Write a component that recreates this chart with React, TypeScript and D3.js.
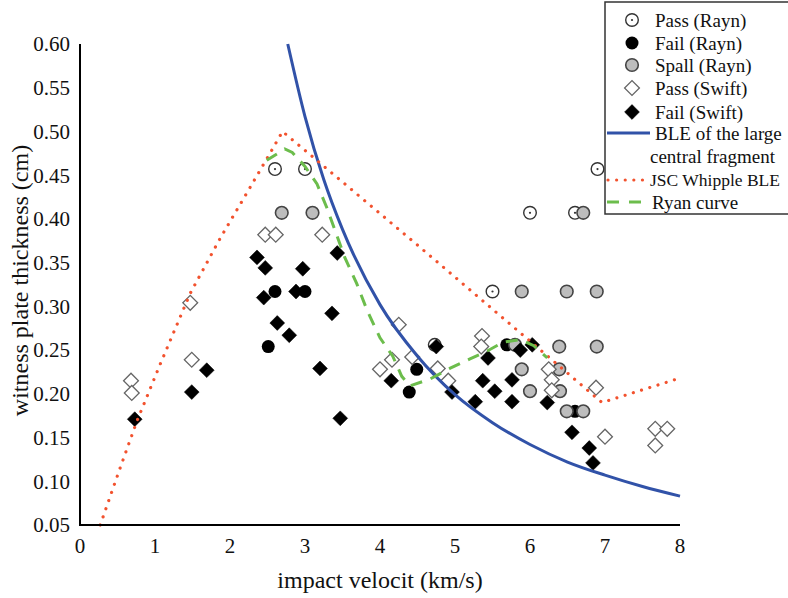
import React from "react";
import * as d3 from "d3";

const WIDTH = 788;
const HEIGHT = 598;
const FONT = "Liberation Serif, DejaVu Serif, Times New Roman, Tinos, serif";

// Pass (Rayn)
const passRaynX = [2.6, 3.0, 5.5, 6.0, 6.6, 6.9, 4.73];
const passRaynY = [0.457, 0.457, 0.317, 0.407, 0.407, 0.457, 0.256];

// Fail (Rayn)
const failRaynX = [2.6, 3.0, 2.51, 4.39, 4.49, 5.69, 6.6];
const failRaynY = [0.317, 0.317, 0.254, 0.202, 0.228, 0.256, 0.18];

// Spall (Rayn)
const spallX = [2.69, 3.1, 5.89, 6.49, 6.89, 6.71, 5.8, 6.39, 6.89, 5.89, 6.39, 6.0, 6.4, 6.49, 6.71];
const spallY = [0.407, 0.407, 0.317, 0.317, 0.317, 0.407, 0.256, 0.254, 0.254, 0.228, 0.228, 0.203, 0.203, 0.18, 0.18];

// Pass (Swift)
const passSwiftX = [0.68, 0.69, 1.47, 1.49, 2.47, 2.61, 3.23, 4.25, 4.16, 4.0, 4.43, 4.77, 4.91, 5.36, 5.35, 6.25, 6.29, 6.29, 6.88, 7.0, 7.67, 7.83, 7.67];
const passSwiftY = [0.215, 0.201, 0.304, 0.239, 0.382, 0.382, 0.382, 0.279, 0.239, 0.228, 0.242, 0.229, 0.215, 0.266, 0.254, 0.228, 0.216, 0.204, 0.207, 0.151, 0.16, 0.16, 0.141];

// Fail (Swift)
const failSwiftX = [0.73, 1.49, 1.69, 2.36, 2.47, 2.97, 3.43, 2.45, 2.88, 3.36, 2.63, 2.79, 3.2, 3.47, 4.15, 4.75, 5.44, 5.37, 5.76, 5.53, 4.96, 5.27, 5.76, 6.23, 5.87, 6.03, 6.56, 6.79, 6.84];
const failSwiftY = [0.171, 0.202, 0.227, 0.356, 0.344, 0.343, 0.361, 0.31, 0.317, 0.292, 0.281, 0.267, 0.229, 0.172, 0.215, 0.254, 0.241, 0.215, 0.216, 0.203, 0.202, 0.191, 0.191, 0.19, 0.25, 0.256, 0.156, 0.138, 0.121];

// BLE of the large central fragment
const bleX = [2.77, 3.0, 3.25, 3.5, 4.0, 4.5, 5.0, 5.5, 6.0, 6.5, 7.0, 7.5, 8.0];
const bleY = [0.6, 0.517, 0.445, 0.388, 0.302, 0.243, 0.199, 0.167, 0.142, 0.122, 0.107, 0.094, 0.083];

// JSC Whipple BLE
const jscX = [0.27, 0.53, 0.76, 1.07, 1.47, 1.87, 2.22, 2.56, 2.7, 4.5, 6.96, 8.0];
const jscY = [0.05, 0.114, 0.169, 0.234, 0.315, 0.378, 0.429, 0.479, 0.5, 0.37, 0.19, 0.218];

// Ryan curve
const ryanX = [2.49, 2.73, 2.83, 3.0, 3.16, 3.29, 3.4, 3.53, 3.69, 3.83, 4.0, 4.17, 4.29, 4.4, 4.67, 4.93, 5.2, 5.43, 5.64, 5.87, 6.05, 6.23];
const ryanY = [0.467, 0.48, 0.476, 0.46, 0.44, 0.413, 0.387, 0.356, 0.326, 0.295, 0.264, 0.243, 0.22, 0.209, 0.217, 0.229, 0.24, 0.249, 0.259, 0.262, 0.255, 0.241];

const xTicks = [0, 1, 2, 3, 4, 5, 6, 7, 8];
const yTicks = [0.05, 0.1, 0.15, 0.2, 0.25, 0.3, 0.35, 0.4, 0.45, 0.5, 0.55, 0.6];

const legendLabels = ["Pass (Rayn)", "Fail (Rayn)", "Spall (Rayn)", "Pass (Swift)", "Fail (Swift)"];

const zip = (xs: number[], ys: number[]) => xs.map((x, i) => [x, ys[i]] as [number, number]);

const diamond = d3.symbol(d3.symbolSquare, 110)() as string;

function Circle({ x, y, kind }: { x: number; y: number; kind: string }) {
  if (kind === "pass")
    return (
      <g transform={`translate(${x},${y})`}>
        <circle r={6.3} fill="#fff" stroke="#333" strokeWidth={1.4} />
        <circle r={1.1} fill="#333" />
      </g>
    );
  if (kind === "fail") return <circle cx={x} cy={y} r={6.5} fill="#000" />;
  return <circle cx={x} cy={y} r={6.3} fill="#bdbdbd" stroke="#444" strokeWidth={1.6} />;
}

function Diamond({ x, y, filled }: { x: number; y: number; filled: boolean }) {
  return (
    <path
      d={diamond}
      transform={`translate(${x},${y}) rotate(45)`}
      fill={filled ? "#000" : "#fff"}
      stroke={filled ? "#000" : "#666"}
      strokeWidth={filled ? 0.5 : 1.3}
    />
  );
}

export default function App() {
  const x = d3.scaleLinear().domain([0, 8]).range([80, 680]);
  const y = d3.scaleLinear().domain([0.05, 0.6]).range([525, 44]);

  const line = d3
    .line<[number, number]>()
    .x((d) => x(d[0]))
    .y((d) => y(d[1]));

  const blePath = d3
    .line<[number, number]>()
    .x((d) => x(d[0]))
    .y((d) => y(d[1]))
    .curve(d3.curveMonotoneX)(zip(bleX, bleY)) as string;
  const ryanPath = line(zip(ryanX, ryanY)) as string;
  const jscPath = line(zip(jscX, jscY)) as string;

  const legendRows = [20, 43, 65, 88, 112];
  const textStyle = { fontFamily: FONT };

  return (
    <svg
      width={WIDTH}
      height={HEIGHT}
      style={{ position: "absolute", left: 0, top: 0, background: "#fff", fontFamily: FONT }}
    >
      <rect width={WIDTH} height={HEIGHT} fill="#fff" />

      {/* markers */}
      {zip(passRaynX, passRaynY).map((d, i) => (
        <Circle key={`pr${i}`} x={x(d[0])} y={y(d[1])} kind="pass" />
      ))}
      {zip(failRaynX, failRaynY).map((d, i) => (
        <Circle key={`fr${i}`} x={x(d[0])} y={y(d[1])} kind="fail" />
      ))}
      {zip(spallX, spallY).map((d, i) => (
        <Circle key={`sr${i}`} x={x(d[0])} y={y(d[1])} kind="spall" />
      ))}
      {zip(passSwiftX, passSwiftY).map((d, i) => (
        <Diamond key={`ps${i}`} x={x(d[0])} y={y(d[1])} filled={false} />
      ))}
      {zip(failSwiftX, failSwiftY).map((d, i) => (
        <Diamond key={`fs${i}`} x={x(d[0])} y={y(d[1])} filled={true} />
      ))}

      {/* curves */}
      <path d={blePath} fill="none" stroke="#3152a8" strokeWidth={3} />
      <path
        d={jscPath}
        fill="none"
        stroke="#f2522e"
        strokeWidth={3.2}
        strokeDasharray="0.01 8.6"
        strokeLinecap="round"
      />
      <path d={ryanPath} fill="none" stroke="#6cbd4c" strokeWidth={3} strokeDasharray="12 9" />

      {/* axes */}
      <line x1={80} x2={80} y1={y(0.6)} y2={y(0.05) + 1} stroke="#000" strokeWidth={2} />
      <line x1={79} x2={680} y1={y(0.05)} y2={y(0.05)} stroke="#000" strokeWidth={2} />
      {yTicks.map((t) => (
        <text key={t} x={70} y={y(t)} dy="0.35em" textAnchor="end" fontSize={21} fill="#111" style={textStyle}>
          {t.toFixed(2)}
        </text>
      ))}
      {xTicks.map((t) => (
        <text key={t} x={x(t)} y={553} textAnchor="middle" fontSize={21} fill="#111" style={textStyle}>
          {t}
        </text>
      ))}
      <text x={380} y={588} textAnchor="middle" fontSize={24} fill="#111" style={textStyle}>
        impact velocit (km/s)
      </text>
      <text
        transform={`translate(28,${(y(0.6) + y(0.05)) / 2 - 4}) rotate(-90)`}
        textAnchor="middle"
        fontSize={24}
        fill="#111"
        style={textStyle}
      >
        witness plate thickness (cm)
      </text>

      {/* legend */}
      <g>
        <rect x={605} y={2} width={200} height={212} fill="#fff" stroke="#333" strokeWidth={1.5} />
        {legendLabels.map((label, i) => (
          <g key={label}>
            {i < 3 ? (
              <Circle x={632} y={legendRows[i]} kind={["pass", "fail", "spall"][i]} />
            ) : (
              <Diamond x={632} y={legendRows[i]} filled={i === 4} />
            )}
            <text x={655} y={legendRows[i]} dy="0.35em" fontSize={19} fill="#111" style={textStyle}>
              {label}
            </text>
          </g>
        ))}
        <line x1={607} x2={650} y1={133} y2={133} stroke="#3152a8" strokeWidth={3} />
        <text x={655} y={133} dy="0.35em" fontSize={19} fill="#111" style={textStyle}>
          BLE of the large
        </text>
        <text x={650} y={156} dy="0.35em" fontSize={19} fill="#111" style={textStyle}>
          central fragment
        </text>
        <line
          x1={608}
          x2={646}
          y1={180}
          y2={180}
          stroke="#f2522e"
          strokeWidth={3.2}
          strokeDasharray="0.01 8.6"
          strokeLinecap="round"
        />
        <text x={650} y={180} dy="0.35em" fontSize={17.5} fill="#111" style={textStyle}>
          JSC Whipple BLE
        </text>
        <line x1={607} x2={641} y1={202} y2={202} stroke="#6cbd4c" strokeWidth={3} strokeDasharray="12 10" />
        <text x={652} y={202} dy="0.35em" fontSize={19} fill="#111" style={textStyle}>
          Ryan curve
        </text>
      </g>
    </svg>
  );
}
